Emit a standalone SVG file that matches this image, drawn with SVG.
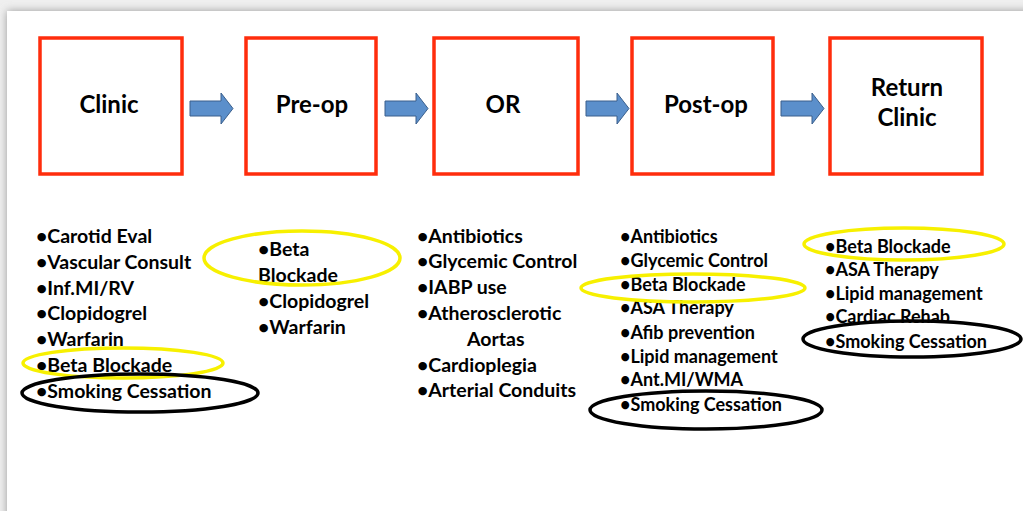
<svg xmlns="http://www.w3.org/2000/svg" width="1023" height="511" viewBox="0 0 1023 511">
  <defs>
    <filter id="shadow" x="-5%" y="-5%" width="110%" height="110%">
      <feGaussianBlur stdDeviation="4"/>
    </filter>
  </defs>
  <style>
    .stage { fill: none; stroke: #ff2d0c; stroke-width: 3.5; }
    .title { font-family: Lato, "Liberation Sans", sans-serif; font-weight: 700; font-size: 24px; fill: #000; text-anchor: middle; }
    .item { font-family: Lato, "Liberation Sans", sans-serif; font-weight: 700; font-size: 19.5px; fill: #000; }
    .small { font-size: 18px; }
    .flow { fill: #5b8fcb; stroke: #3a5f8c; stroke-width: 1; }
    .hl-yellow { fill: none; stroke: #f7f000; stroke-width: 3.5; }
    .hl-black { fill: none; stroke: #000; stroke-width: 3.5; }
  </style>

  <!-- page and drop shadow -->
  <rect x="0" y="0" width="1023" height="511" fill="#efefef"/>
  <rect x="7" y="11" width="1030" height="520" fill="#9a9a9a" filter="url(#shadow)"/>
  <rect x="7" y="11" width="1016" height="500" fill="#ffffff"/>

  <!-- stage boxes -->
  <g id="clinic">
    <rect class="stage" x="40" y="38" width="142" height="136"/>
    <text class="title" x="109" y="113">Clinic</text>
  </g>
  <g id="preop">
    <rect class="stage" x="246" y="38" width="130" height="136"/>
    <text class="title" x="312" y="113">Pre-op</text>
  </g>
  <g id="or">
    <rect class="stage" x="434" y="38" width="144" height="136"/>
    <text class="title" x="503" y="113">OR</text>
  </g>
  <g id="postop">
    <rect class="stage" x="632" y="38" width="141" height="136"/>
    <text class="title" x="706" y="113">Post-op</text>
  </g>
  <g id="return-clinic">
    <rect class="stage" x="830" y="38" width="152" height="136"/>
    <text class="title" x="907" y="96">Return</text>
    <text class="title" x="907" y="126">Clinic</text>
  </g>

  <!-- block arrows between stages -->
  <g id="connectors">
    <path class="flow" d="M190,101 H221 V93 L233,108.5 L221,124 V116 H190 Z"/>
    <path class="flow" d="M385,101 H416 V93 L428,108.5 L416,124 V116 H385 Z"/>
    <path class="flow" d="M586,101 H617 V93 L629,108.5 L617,124 V116 H586 Z"/>
    <path class="flow" d="M781,101 H812 V93 L824,108.5 L812,124 V116 H781 Z"/>
  </g>

  <!-- clinic checklist -->
  <g id="clinic-list">
    <text class="item" x="36" y="243">•Carotid Eval</text>
    <text class="item" x="36" y="269">•Vascular Consult</text>
    <text class="item" x="36" y="295">•Inf.MI/RV</text>
    <text class="item" x="36" y="320">•Clopidogrel</text>
    <text class="item" x="36" y="346">•Warfarin</text>
    <text class="item" x="36" y="372">•Beta Blockade</text>
    <text class="item" x="36" y="398">•Smoking Cessation</text>
    <ellipse class="hl-yellow" cx="123" cy="363" rx="100" ry="15"/>
    <ellipse class="hl-black" cx="140" cy="393" rx="118" ry="19"/>
  </g>

  <!-- pre-op checklist -->
  <g id="preop-list">
    <text class="item" x="258" y="256">•Beta</text>
    <text class="item" x="258" y="282">Blockade</text>
    <text class="item" x="258" y="308">•Clopidogrel</text>
    <text class="item" x="258" y="334">•Warfarin</text>
    <ellipse class="hl-yellow" cx="302" cy="258" rx="98" ry="27"/>
  </g>

  <!-- OR checklist -->
  <g id="or-list">
    <text class="item" x="417" y="243">•Antibiotics</text>
    <text class="item" x="417" y="268">•Glycemic Control</text>
    <text class="item" x="417" y="294">•IABP use</text>
    <text class="item" x="417" y="320">•Atherosclerotic</text>
    <text class="item" x="467" y="346">Aortas</text>
    <text class="item" x="417" y="372">•Cardioplegia</text>
    <text class="item" x="417" y="397">•Arterial Conduits</text>
  </g>

  <!-- post-op checklist -->
  <g id="postop-list">
    <text class="item small" x="620" y="243">•Antibiotics</text>
    <text class="item small" x="620" y="267">•Glycemic Control</text>
    <text class="item small" x="620" y="291">•Beta Blockade</text>
    <text class="item small" x="620" y="314">•ASA Therapy</text>
    <text class="item small" x="620" y="339">•Afib prevention</text>
    <text class="item small" x="620" y="363">•Lipid management</text>
    <text class="item small" x="620" y="386">•Ant.MI/WMA</text>
    <text class="item small" x="620" y="411">•Smoking Cessation</text>
    <ellipse class="hl-yellow" cx="693" cy="288" rx="112" ry="14"/>
    <ellipse class="hl-black" cx="706" cy="410" rx="116" ry="19"/>
  </g>

  <!-- return clinic checklist -->
  <g id="return-list">
    <text class="item small" x="825" y="253">•Beta Blockade</text>
    <text class="item small" x="825" y="276">•ASA Therapy</text>
    <text class="item small" x="825" y="300">•Lipid management</text>
    <text class="item small" x="825" y="323">•Cardiac Rehab</text>
    <text class="item small" x="825" y="348">•Smoking Cessation</text>
    <ellipse class="hl-yellow" cx="904" cy="244" rx="100" ry="16"/>
    <ellipse class="hl-black" cx="912" cy="339" rx="109" ry="18"/>
  </g>
</svg>
